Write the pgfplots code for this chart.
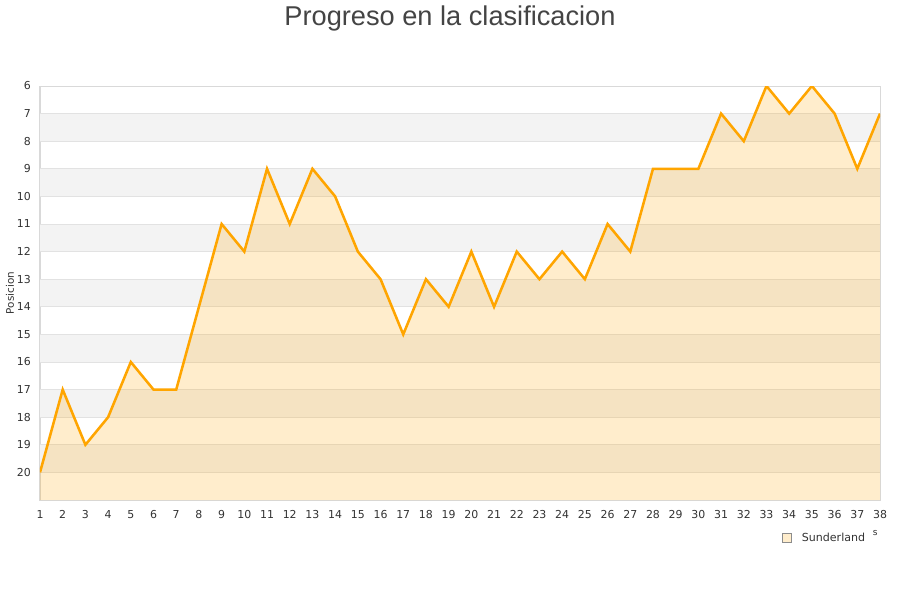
\documentclass[border=0pt]{standalone}
\usepackage{fontspec}
\setmainfont{DejaVu Sans}
\newfontfamily\titlefont{Liberation Sans}
\usepackage{pgfplots}
\pgfplotsset{compat=1.18}
\usepackage{pgfplotstable}

\definecolor{lineorange}{HTML}{FFA500}
\definecolor{bandgray}{HTML}{F3F3F3}
\definecolor{gridgray}{HTML}{E2E2E2}
\definecolor{framegray}{HTML}{D9D9D9}
\definecolor{textgray}{HTML}{333333}
\definecolor{titlegray}{HTML}{444444}

% posicion por jornada
\pgfplotstableread{
jornada pos
1 20
2 17
3 19
4 18
5 16
6 17
7 17
8 14
9 11
10 12
11 9
12 11
13 9
14 10
15 12
16 13
17 15
18 13
19 14
20 12
21 14
22 12
23 13
24 12
25 13
26 11
27 12
28 9
29 9
30 9
31 7
32 8
33 6
34 7
35 6
36 7
37 9
38 7
}\sunderland

\begin{document}
\begin{tikzpicture}
\path[fill=white, use as bounding box] (0,0) rectangle (675pt,450pt);
\node[anchor=base, font=\titlefont\fontsize{20.4pt}{24pt}\selectfont, text=titlegray]
  at (337.5pt,431pt) {Progreso en la clasificacion};
\begin{axis}[
  at={(30pt,75pt)}, anchor=south west,
  scale only axis, width=630pt, height=310.5pt,
  xmin=1, xmax=38, ymin=6, ymax=21, y dir=reverse,
  xtick={1,...,38}, ytick={6,...,20},
  major tick length=0pt,
  ymajorgrids, grid style={gridgray, line width=0.75pt},
  axis line style={framegray, line width=0.75pt},
  tick label style={font=\fontsize{8.2pt}{10pt}\selectfont, text=textgray, inner sep=0pt},
  xticklabel style={anchor=base, yshift=-13.8pt},
  yticklabel style={anchor=east, xshift=-6.75pt},
  /pgf/number format/assume math mode=true,
  ylabel={Posicion},
  ylabel style={at={(axis description cs:-0.0357,0.5)}, anchor=center,
    font=\fontsize{7.8pt}{9pt}\selectfont, text=textgray},
  legend style={draw=none, fill=none, inner sep=0pt, column sep=7.5pt,
    nodes={inner sep=0pt},
    at={(axis description cs:0.8833,-0.0918)},
    anchor=west, font=\fontsize{8.3pt}{10pt}\selectfont, text=textgray},
]
% franjas alternas de fondo
\addplot[draw=none, fill=bandgray, forget plot] coordinates {(1,7) (38,7) (38,8) (1,8)};
\addplot[draw=none, fill=bandgray, forget plot] coordinates {(1,9) (38,9) (38,10) (1,10)};
\addplot[draw=none, fill=bandgray, forget plot] coordinates {(1,11) (38,11) (38,12) (1,12)};
\addplot[draw=none, fill=bandgray, forget plot] coordinates {(1,13) (38,13) (38,14) (1,14)};
\addplot[draw=none, fill=bandgray, forget plot] coordinates {(1,15) (38,15) (38,16) (1,16)};
\addplot[draw=none, fill=bandgray, forget plot] coordinates {(1,17) (38,17) (38,18) (1,18)};
\addplot[draw=none, fill=bandgray, forget plot] coordinates {(1,19) (38,19) (38,20) (1,20)};
\pgfplotsinvokeforeach{7,...,20}{
  \draw[gridgray, line width=0.75pt] (axis cs:1,#1) -- (axis cs:38,#1);
}
% area bajo la linea
\addplot[draw=none, fill=lineorange, fill opacity=0.2,
  legend image code/.code={\draw[draw=gray!90, fill=lineorange!20, fill opacity=1, line width=0.6pt]
    (0pt,-3.3pt) rectangle (6.6pt,3.3pt);}]
  coordinates {(1,21) (1,20) (2,17) (3,19) (4,18) (5,16) (6,17) (7,17) (8,14) (9,11) (10,12)
  (11,9) (12,11) (13,9) (14,10) (15,12) (16,13) (17,15) (18,13) (19,14) (20,12) (21,14)
  (22,12) (23,13) (24,12) (25,13) (26,11) (27,12) (28,9) (29,9) (30,9) (31,7) (32,8)
  (33,6) (34,7) (35,6) (36,7) (37,9) (38,7) (38,21)};
\addlegendentry{Sunderland}
\addplot[lineorange, line width=1.9pt, line join=miter, forget plot]
  table[x=jornada, y=pos] {\sunderland};
\end{axis}
\node[anchor=base, font=\fontsize{6.8pt}{8pt}\selectfont, text=textgray] at (656.5pt,48.5pt) {s};
\end{tikzpicture}
\end{document}
